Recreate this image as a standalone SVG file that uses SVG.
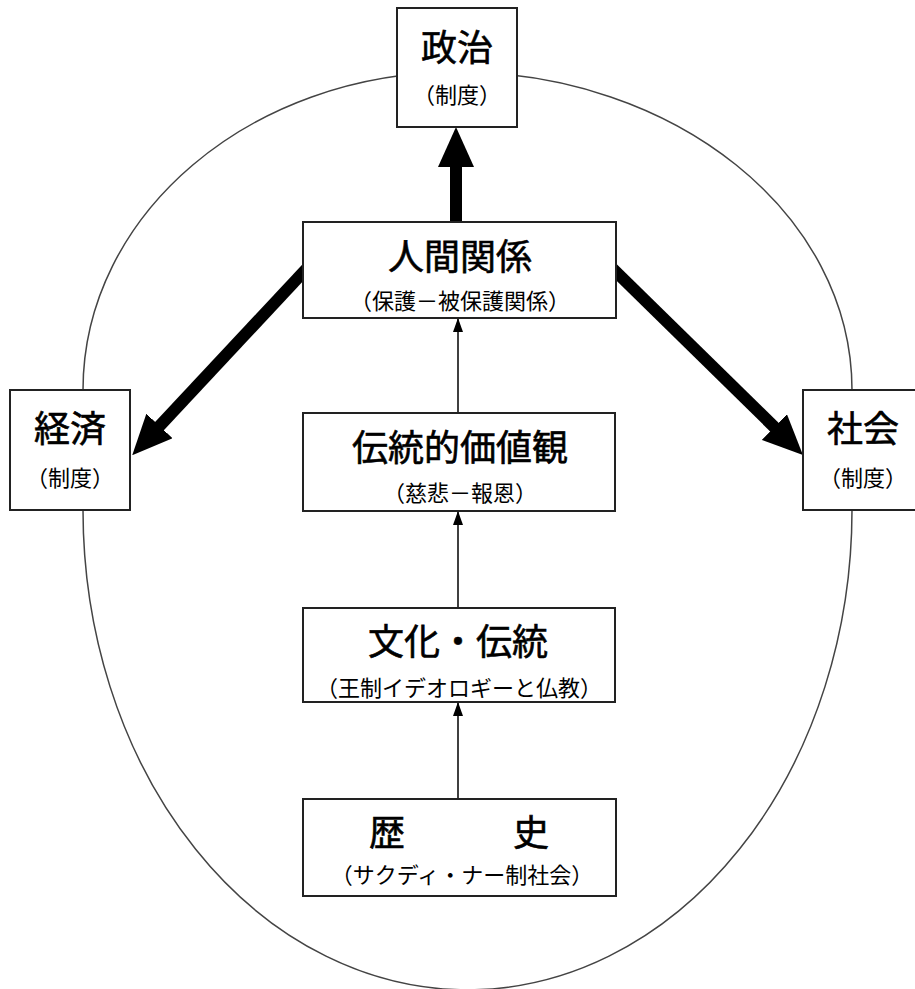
<svg xmlns="http://www.w3.org/2000/svg" width="915" height="989" viewBox="0 0 915 989">
<style>
.box{fill:#fff;stroke:#222;stroke-width:2}
.t{font-family:"Noto Sans CJK JP","Noto Sans CJK SC",sans-serif;font-size:36px;text-anchor:middle;fill:#000;stroke:#000;stroke-width:0.6}
.s{font-family:"Noto Sans CJK JP","Noto Sans CJK SC",sans-serif;font-size:22px;text-anchor:middle;fill:#000}
.thick{stroke:#000;stroke-width:12;fill:none}
.thin{stroke:#000;stroke-width:1.5;fill:none}
.oval{fill:none;stroke:#444;stroke-width:1.5}
</style>
<defs>
<marker id="bigHead" markerUnits="userSpaceOnUse" viewBox="0 0 40 36" refX="10" refY="18" markerWidth="40" markerHeight="36" orient="auto">
<path d="M0,0 L40,18 L0,36 Z" fill="#000"/>
</marker>
<marker id="smallHead" markerUnits="userSpaceOnUse" viewBox="0 0 14 10" refX="14" refY="5" markerWidth="14" markerHeight="10" orient="auto">
<path d="M0,0 L14,5 L0,10 Z" fill="#000"/>
</marker>
</defs>
<rect width="915" height="989" fill="#fff"/>
<path class="oval" d="M83,510 L83,390 C83,214 251,72 457,72 C675,72 852,214 852,390 L852,510 A384.5 480 0 0 1 83,510 Z"/>
<g id="connectors">
<line class="thick" x1="456" y1="225" x2="456" y2="157" marker-end="url(#bigHead)"/>
<line class="thick" x1="310" y1="265" x2="152.7" y2="433.3" marker-end="url(#bigHead)"/>
<line class="thick" x1="609" y1="265" x2="781.5" y2="434.1" marker-end="url(#bigHead)"/>
<line class="thin" x1="458" y1="413" x2="458" y2="318" marker-end="url(#smallHead)"/>
<line class="thin" x1="458" y1="608" x2="458" y2="511" marker-end="url(#smallHead)"/>
<line class="thin" x1="458" y1="799" x2="458" y2="702" marker-end="url(#smallHead)"/>
</g>
<g id="seiji">
<rect class="box" x="397" y="8" width="120" height="119"/>
<text class="t" x="457" y="61">政治</text>
<text class="s" x="457" y="103">（制度）</text>
</g>
<g id="keizai">
<rect class="box" x="10" y="390" width="120" height="120"/>
<text class="t" x="70" y="442">経済</text>
<text class="s" x="70" y="486">（制度）</text>
</g>
<g id="shakai">
<rect class="box" x="803" y="390" width="121" height="120"/>
<text class="t" x="863" y="442">社会</text>
<text class="s" x="863" y="486">（制度）</text>
</g>
<g id="ningen">
<rect class="box" x="303" y="222" width="313" height="96"/>
<text class="t" x="460" y="270">人間関係</text>
<text class="s" x="460" y="309">（保護－被保護関係）</text>
</g>
<g id="kachikan">
<rect class="box" x="303" y="413" width="312" height="98"/>
<text class="t" x="460" y="461">伝統的価値観</text>
<text class="s" x="460" y="501">（慈悲－報恩）</text>
</g>
<g id="bunka">
<rect class="box" x="303" y="608" width="312" height="94"/>
<text class="t" x="458" y="655">文化・伝統</text>
<text class="s" x="459" y="696">（王制イデオロギーと仏教）</text>
</g>
<g id="rekishi">
<rect class="box" x="303" y="799" width="313" height="97"/>
<text class="t" x="459" y="846">歴　　　史</text>
<text class="s" x="462" y="883">（サクディ・ナー制社会）</text>
</g>
</svg>
